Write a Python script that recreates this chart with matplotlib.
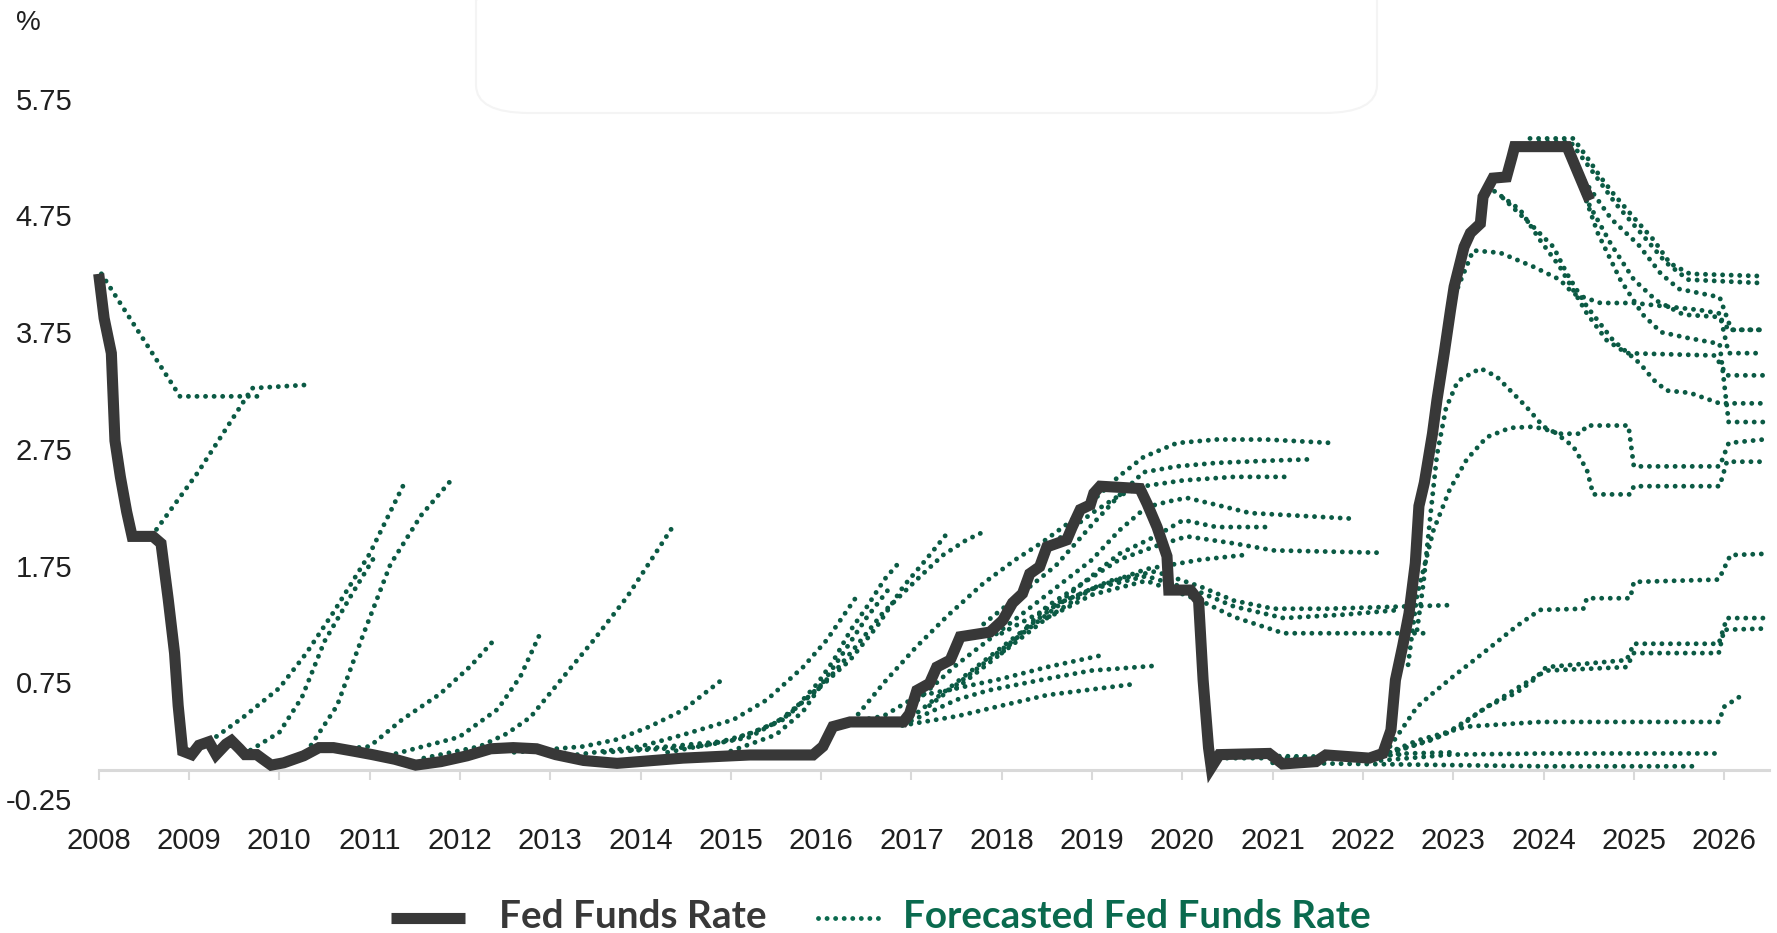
import matplotlib
matplotlib.use("Agg")
import matplotlib.pyplot as plt
from matplotlib.lines import Line2D
from matplotlib.patches import FancyBboxPatch

# effective fed funds rate (thick dark line)
ffr_year = [2008.0, 2008.06, 2008.14, 2008.18, 2008.24, 2008.31, 2008.37, 2008.6, 2008.69,
            2008.77, 2008.84, 2008.88, 2008.93, 2009.03, 2009.11, 2009.22, 2009.3, 2009.41,
            2009.47, 2009.56, 2009.62, 2009.75, 2009.82, 2009.91, 2010.05, 2010.27, 2010.44,
            2010.6, 2010.82, 2011.03, 2011.28, 2011.51, 2011.79, 2012.08, 2012.34, 2012.59,
            2012.85, 2013.06, 2013.37, 2013.74, 2014.47, 2015.21, 2015.91, 2016.02, 2016.13,
            2016.32, 2016.91, 2016.98, 2017.06, 2017.2, 2017.28, 2017.43, 2017.54, 2017.87,
            2018.01, 2018.12, 2018.23, 2018.31, 2018.42, 2018.5, 2018.72, 2018.78, 2018.87,
            2018.98, 2019.02, 2019.09, 2019.53, 2019.61, 2019.72, 2019.83, 2019.85, 2020.09,
            2020.18, 2020.23, 2020.29, 2020.32, 2020.41, 2020.96, 2021.11, 2021.48, 2021.59,
            2022.07, 2022.22, 2022.31, 2022.36, 2022.44, 2022.51, 2022.58, 2022.62, 2022.68,
            2022.77, 2022.82, 2022.9, 2022.97, 2023.01, 2023.12, 2023.19, 2023.3, 2023.33,
            2023.44, 2023.59, 2023.65, 2023.68, 2024.26, 2024.51]
ffr_rate = [4.25, 3.87, 3.57, 2.82, 2.51, 2.21, 2.0, 2.0, 1.94,
            1.46, 1.0, 0.55, 0.16, 0.13, 0.21, 0.24, 0.13, 0.22,
            0.25, 0.18, 0.13, 0.13, 0.09, 0.04, 0.06, 0.12, 0.19,
            0.19, 0.16, 0.13, 0.09, 0.04, 0.07, 0.12, 0.18, 0.19,
            0.18, 0.13, 0.08, 0.055, 0.1, 0.127, 0.127, 0.2, 0.37,
            0.41, 0.41, 0.48, 0.68, 0.74, 0.88, 0.94, 1.14, 1.18,
            1.28, 1.43, 1.51, 1.68, 1.74, 1.91, 1.97, 2.08, 2.23,
            2.27, 2.37, 2.43, 2.41, 2.28, 2.08, 1.83, 1.54, 1.54,
            1.45, 0.77, 0.19, 0.02, 0.13, 0.14, 0.05, 0.07, 0.127,
            0.1, 0.14, 0.34, 0.77, 1.06, 1.34, 1.77, 2.26, 2.46,
            2.88, 3.17, 3.57, 3.94, 4.14, 4.48, 4.6, 4.68, 4.91,
            5.07, 5.08, 5.25, 5.34, 5.34, 4.88]

# forecast paths (year, rate), grouped by when they were published
fc_2008_2013 = [
    ([2008.03, 2008.9, 2009.83], [4.25, 3.2, 3.2]),
    ([2008.64, 2009.1, 2009.7, 2010.34], [2.06, 2.55, 3.27, 3.3]),
    ([2009.15, 2009.6, 2010.0, 2010.3, 2010.6, 2011.0, 2011.4], [0.2, 0.45, 0.7, 1.0, 1.35, 1.85, 2.48]),
    ([2009.6, 2010.0, 2010.25, 2010.5, 2010.8, 2011.05], [0.13, 0.32, 0.62, 1.1, 1.5, 1.82]),
    ([2010.3, 2010.64, 2010.93, 2011.23, 2011.57, 2011.89], [0.15, 0.55, 1.16, 1.76, 2.18, 2.47]),
    ([2010.6, 2011.0, 2011.36, 2011.78, 2012.12, 2012.4], [0.17, 0.2, 0.43, 0.65, 0.89, 1.13]),
    ([2011.2, 2011.99, 2012.42, 2012.67, 2012.89], [0.12, 0.28, 0.52, 0.8, 1.17]),
    ([2011.6, 2012.22, 2012.52, 2012.78, 2013.15, 2013.48, 2013.85, 2014.38],
     [0.1, 0.2, 0.31, 0.45, 0.8, 1.11, 1.48, 2.11]),
    ([2012.6, 2013.37, 2013.74, 2014.1, 2014.47, 2014.9], [0.15, 0.2, 0.26, 0.37, 0.51, 0.77]),
]

fc_2013_2019 = [
    ([2013.3, 2014.0, 2014.47, 2015.03, 2015.4, 2015.8, 2016.06, 2016.38],
     [0.13, 0.2, 0.3, 0.43, 0.6, 0.88, 1.11, 1.47]),
    ([2013.6, 2014.66, 2015.21, 2015.66, 2015.96, 2016.14, 2016.33, 2016.51, 2016.7, 2016.89],
     [0.15, 0.2, 0.28, 0.48, 0.74, 0.94, 1.2, 1.4, 1.63, 1.8]),
    ([2013.9, 2015.0, 2015.5, 2015.92, 2016.32, 2016.62, 2016.91, 2017.16, 2017.41],
     [0.17, 0.25, 0.4, 0.66, 0.94, 1.23, 1.57, 1.8, 2.04]),
    ([2014.3, 2014.84, 2015.21, 2015.58, 2015.88, 2016.14, 2016.39, 2016.69, 2017.06, 2017.35,
      2017.61, 2017.83],
     [0.15, 0.23, 0.31, 0.43, 0.64, 0.83, 1.06, 1.35, 1.63, 1.84, 1.97, 2.05]),
    ([2015.0, 2015.5, 2015.8, 2016.2, 2016.5, 2016.75], [0.16, 0.3, 0.5, 0.95, 1.3, 1.55]),
    ([2016.35, 2016.7, 2017.05, 2017.4, 2017.8, 2018.15, 2018.45, 2018.75, 2019.0, 2019.29,
      2019.57, 2019.94, 2020.38, 2020.93, 2021.67],
     [0.42, 0.75, 1.05, 1.32, 1.6, 1.8, 1.95, 2.12, 2.3, 2.51, 2.68, 2.8, 2.83, 2.83, 2.8]),
    ([2017.8, 2018.2, 2018.6, 2019.0, 2019.3, 2019.57, 2019.94, 2020.38, 2021.0, 2021.41],
     [1.25, 1.5, 1.75, 2.1, 2.35, 2.55, 2.6, 2.63, 2.65, 2.66]),
    ([2018.5, 2019.0, 2019.3, 2019.57, 2020.01, 2020.57, 2021.16], [1.9, 2.2, 2.35, 2.43, 2.48, 2.51, 2.51]),
    ([2017.0, 2017.5, 2018.0, 2018.5, 2019.0, 2019.3, 2019.6, 2019.85, 2020.05, 2020.38, 2020.75,
      2021.93],
     [0.55, 0.9, 1.2, 1.5, 1.8, 2.05, 2.25, 2.3, 2.33, 2.27, 2.2, 2.15]),
    ([2017.0, 2017.5, 2018.0, 2018.5, 2018.9, 2019.3, 2019.7, 2020.01, 2020.38, 2020.93],
     [0.45, 0.75, 1.05, 1.35, 1.6, 1.85, 2.0, 2.14, 2.08, 2.08]),
    ([2017.5, 2018.0, 2018.5, 2018.9, 2019.3, 2019.68, 2020.05, 2020.57, 2021.01, 2022.19],
     [0.7, 1.0, 1.4, 1.6, 1.8, 1.91, 2.0, 1.94, 1.88, 1.86]),
    ([2018.0, 2018.5, 2019.0, 2019.6, 2020.2, 2020.68], [1.0, 1.3, 1.55, 1.72, 1.8, 1.84]),
    ([2017.2, 2017.7, 2018.2, 2018.7, 2019.2, 2019.7, 2020.2, 2020.57, 2021.01, 2021.6, 2022.93],
     [0.55, 0.85, 1.15, 1.45, 1.62, 1.7, 1.57, 1.45, 1.38, 1.38, 1.41]),
    ([2018.0, 2018.5, 2019.0, 2019.6, 2020.2, 2020.57, 2021.12, 2021.8, 2022.41],
     [1.17, 1.38, 1.55, 1.66, 1.52, 1.4, 1.3, 1.33, 1.37]),
    ([2018.5, 2019.0, 2019.6, 2020.2, 2020.57, 2021.12, 2022.69], [1.3, 1.5, 1.62, 1.45, 1.31, 1.17, 1.17]),
    ([2016.25, 2016.69, 2017.06, 2017.51, 2018.0, 2018.5, 2019.16], [0.4, 0.46, 0.63, 0.7, 0.78, 0.88, 0.99]),
    ([2017.0, 2017.5, 2017.85, 2018.5, 2018.99, 2019.68], [0.42, 0.6, 0.68, 0.78, 0.85, 0.89]),
    ([2016.9, 2017.51, 2018.0, 2018.5, 2019.42], [0.38, 0.46, 0.55, 0.64, 0.73]),
]

fc_2020_2026 = [
    ([2020.4, 2021.5, 2022.0, 2022.5, 2023.0], [0.1, 0.1, 0.12, 0.14, 0.15]),
    ([2020.6, 2022.0, 2022.4], [0.12, 0.11, 0.13]),
    ([2021.0, 2022.0, 2023.0, 2024.0, 2025.7], [0.06, 0.05, 0.04, 0.03, 0.03]),
    ([2022.2, 2022.97, 2024.0, 2025.94], [0.08, 0.13, 0.14, 0.14]),
    ([2022.2, 2022.6, 2023.15, 2023.96, 2025.94, 2026.0, 2026.18], [0.12, 0.25, 0.37, 0.41, 0.41, 0.54, 0.63]),
    ([2022.2, 2022.41, 2022.78, 2023.07, 2023.37, 2023.7, 2023.89, 2024.03, 2024.92, 2025.0, 2025.94,
      2026.03, 2026.43],
     [0.12, 0.17, 0.26, 0.37, 0.54, 0.66, 0.77, 0.88, 0.94, 1.08, 1.08, 1.3, 1.3]),
    ([2022.3, 2022.6, 2022.9, 2023.2, 2023.5, 2023.75, 2024.03, 2024.92, 2025.0, 2025.94, 2026.0, 2026.43],
     [0.15, 0.22, 0.3, 0.45, 0.6, 0.72, 0.85, 0.88, 1.0, 1.0, 1.2, 1.21]),
    ([2022.3, 2022.6, 2022.78, 2023.0, 2023.33, 2023.7, 2023.96, 2024.44, 2024.48, 2024.96, 2025.0,
      2025.94, 2026.07, 2026.43],
     [0.2, 0.54, 0.66, 0.8, 1.0, 1.23, 1.37, 1.38, 1.47, 1.47, 1.61, 1.63, 1.84, 1.85]),
    ([2022.5, 2022.6, 2022.78, 2022.96, 2023.15, 2023.37, 2023.63, 2023.89, 2024.11, 2024.33, 2024.48,
      2024.55, 2024.96, 2025.0, 2025.95, 2026.03, 2026.43],
     [0.9, 1.5, 2.05, 2.4, 2.66, 2.85, 2.93, 2.94, 2.9, 2.77, 2.57, 2.36, 2.36, 2.43, 2.43, 2.64, 2.64]),
    ([2022.6, 2022.67, 2022.75, 2022.82, 2022.92, 2023.05, 2023.3, 2023.48, 2023.81, 2024.0, 2024.15,
      2024.41, 2024.48, 2024.94, 2025.0, 2025.95, 2026.05, 2026.43],
     [1.2, 1.6, 2.2, 2.7, 3.1, 3.33, 3.44, 3.37, 3.11, 2.94, 2.88, 2.88, 2.95, 2.95, 2.6, 2.6, 2.8, 2.83]),
    ([2022.98, 2023.22, 2023.52, 2023.89, 2024.18, 2024.33, 2024.63, 2025.0, 2025.36, 2025.73, 2025.95,
      2026.05, 2026.43],
     [4.0, 4.45, 4.43, 4.31, 4.2, 4.08, 4.0, 4.0, 3.97, 3.94, 3.91, 3.57, 3.57]),
    ([2023.38, 2023.74, 2023.96, 2024.18, 2024.33, 2024.48, 2024.7, 2024.92, 2025.9, 2026.03, 2026.43],
     [5.0, 4.8, 4.54, 4.31, 4.11, 3.91, 3.68, 3.57, 3.55, 3.38, 3.38]),
    ([2023.55, 2023.89, 2024.11, 2024.26, 2024.48, 2024.77, 2025.07, 2025.22, 2025.36, 2025.62, 2025.95,
      2026.43],
     [4.9, 4.65, 4.48, 4.25, 3.97, 3.68, 3.48, 3.34, 3.25, 3.23, 3.14, 3.14]),
    ([2023.85, 2024.33, 2024.48, 2024.63, 2024.77, 2024.99, 2025.22, 2025.4, 2025.62, 2026.43],
     [5.41, 5.41, 5.25, 5.08, 4.94, 4.74, 4.54, 4.34, 4.25, 4.23]),
    ([2023.95, 2024.3, 2024.52, 2024.8, 2025.1, 2025.35, 2025.6, 2026.43],
     [5.38, 5.38, 5.15, 4.85, 4.58, 4.35, 4.2, 4.17]),
    ([2024.25, 2024.45, 2024.75, 2025.05, 2025.3, 2025.5, 2025.95, 2026.08, 2026.43],
     [5.3, 5.05, 4.72, 4.5, 4.25, 4.12, 4.05, 3.77, 3.77]),
    ([2024.3, 2024.5, 2024.75, 2025.0, 2025.25, 2025.55, 2025.95, 2026.05, 2026.43],
     [5.25, 4.85, 4.5, 4.2, 4.02, 3.9, 3.88, 3.77, 3.77]),
    ([2024.35, 2024.6, 2024.85, 2025.1, 2025.3, 2025.6, 2025.95, 2026.05, 2026.43],
     [5.15, 4.6, 4.2, 3.9, 3.75, 3.7, 3.65, 2.98, 2.98]),
]

year_ticks = list(range(2008, 2027))
rate_ticks = [-0.25, 0.75, 1.75, 2.75, 3.75, 4.75, 5.75]

W, H = 1777, 933
DARK = "#383838"
GREEN = "#0b5a44"
LEGEND_GREEN = "#0a6a4e"
AXIS_GREY = "#d9d9d9"
TEXT = "#1f1f1f"
TICK_FONT = ["Liberation Sans Narrow", "Liberation Sans", "DejaVu Sans"]
LEGEND_FONT = ["Lato", "DejaVu Sans"]
DOT_LW = 3.5
DOTS = (0, (0.01, 1.75))

fig = plt.figure(figsize=(W / 100, H / 100), dpi=100)
ax = fig.add_axes([98.7 / W, 1 - 804.8 / H, 1670.6 / W, (804.8 - 69.6) / H])

for group in (fc_2008_2013, fc_2013_2019, fc_2020_2026):
    for xs, ys in group:
        ax.plot(xs, ys, color=GREEN, lw=DOT_LW, linestyle=DOTS,
                dash_capstyle="round", zorder=2, clip_on=False)

ax.plot(ffr_year, ffr_rate, color=DARK, lw=8, solid_joinstyle="miter",
        solid_capstyle="butt", zorder=3, clip_on=False)

ax.set_xlim(2008, 2026.5)
ax.set_ylim(-0.3, 6.0)
for side in ("left", "right", "top"):
    ax.spines[side].set_visible(False)
ax.spines["bottom"].set_position(("data", 0))
ax.spines["bottom"].set_color(AXIS_GREY)
ax.spines["bottom"].set_linewidth(2.2)

ax.set_xticks(year_ticks)
ax.set_xticklabels([str(y) for y in year_ticks])
ax.set_yticks(rate_ticks)
ax.set_yticklabels([f"{v:.2f}" for v in rate_ticks])
ax.tick_params(axis="x", colors=AXIS_GREY, length=7, width=1.5, pad=34,
               labelcolor=TEXT, labelsize=21)
ax.tick_params(axis="y", length=0, pad=19, labelcolor=TEXT, labelsize=21)
for lbl in ax.get_xticklabels() + ax.get_yticklabels():
    lbl.set_family(TICK_FONT)

fig.text(28 / W, 1 - 23 / H, "%", ha="center", va="center", fontsize=20,
         family=TICK_FONT, color=TEXT)

# faint leftover title box at the top
fig.add_artist(FancyBboxPatch((476 / W, 1 - 113 / H), 901 / W, 140 / H,
                              boxstyle="round,pad=0,rounding_size=0.03",
                              transform=fig.transFigure, fill=False,
                              edgecolor="#f4f4f4", lw=1.5))

# legend drawn by hand so each label keeps its own colour
leg_y = 1 - 918 / H
base_y = 1 - 928 / H
fig.add_artist(Line2D([391 / W, 465 / W], [leg_y, leg_y], transform=fig.transFigure,
                      color=DARK, lw=8, solid_capstyle="butt"))
fig.add_artist(Line2D([818 / W, 878 / W], [leg_y, leg_y], transform=fig.transFigure,
                      color=LEGEND_GREEN, lw=DOT_LW, linestyle=DOTS, dash_capstyle="round"))

renderer = fig.canvas.get_renderer()
for text, x0, x1, col in (("Fed Funds Rate", 498.7, 767, DARK),
                          ("Forecasted Fed Funds Rate", 903, 1371, LEGEND_GREEN)):
    t = fig.text(x0 / W, base_y, text, ha="left", va="baseline", fontsize=20,
                 fontweight="bold", family=LEGEND_FONT, color=col)
    width = t.get_window_extent(renderer).width
    t.set_fontsize(20 * (x1 - x0) / width)

fig.savefig("out.png", dpi=100)
